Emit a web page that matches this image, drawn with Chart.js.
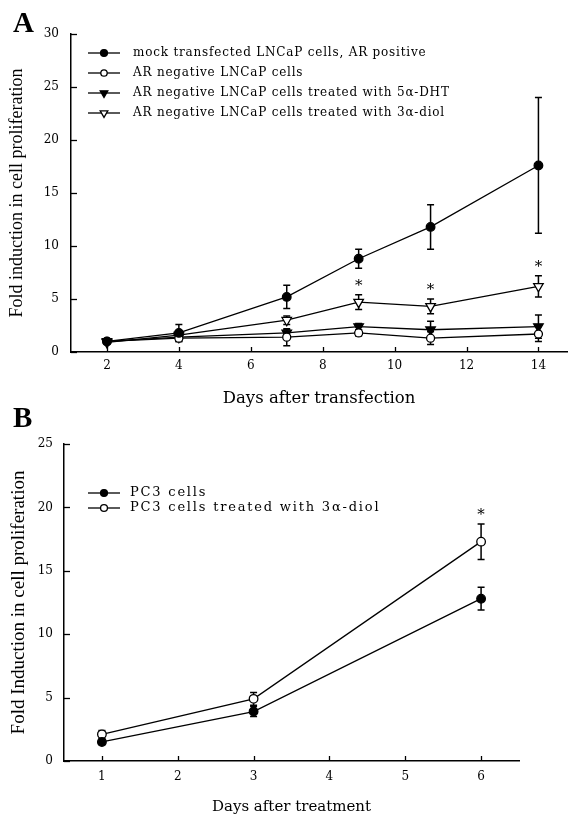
<!DOCTYPE html>
<html>
<head>
<meta charset="utf-8">
<script src="https://cdn.jsdelivr.net/npm/chart.js@4.4.0/dist/chart.umd.min.js"></script>
<style>
body{margin:0;background:#fff;width:574px;height:817px;position:relative;overflow:hidden;}
canvas{position:absolute;left:0;}
#chartA{top:0;}
#chartB{top:400px;}
.lbl{position:absolute;font:bold 29px "Liberation Serif";line-height:1;z-index:2;}
</style>
</head>
<body>
<div class="lbl" style="left:13px;top:8px">A</div>
<div class="lbl" style="left:13px;top:403px">B</div>
<canvas id="chartA" width="574" height="410"></canvas>
<canvas id="chartB" width="574" height="417"></canvas>
<script>
// # ===============================
// # = Data panel A
// # ===============================
var daysA = [2, 4, 7, 9, 11, 14];
var mockA = [1.0, 1.8, 5.2, 8.8, 11.8, 17.6];
var mockErrA = [0.1, 0.8, 1.1, 0.9, 2.1, 6.4];
var negA = [1.0, 1.3, 1.4, 1.8, 1.3, 1.7];
var negErrA = [0.1, 0.3, 0.8, 0.3, 0.6, 0.7];
var dhtA = [1.0, 1.4, 1.8, 2.4, 2.1, 2.4];
var dhtErrA = [0.1, 0.3, 0.3, 0.3, 0.8, 1.1];
var diolA = [0.9, 1.6, 3.0, 4.7, 4.3, 6.2];
var diolErrA = [0.1, 0.4, 0.4, 0.7, 0.7, 1.0];
var starDaysA = [9, 11, 14];
var xTicksA = [2, 4, 6, 8, 10, 12, 14];
var yTicksA = [0, 5, 10, 15, 20, 25, 30];

// # ===============================
// # = Data panel B
// # ===============================
var daysB = [1, 3, 6];
var pc3B = [1.5, 3.9, 12.8];
var pc3ErrB = [0.2, 0.4, 0.9];
var pc3DiolB = [2.1, 4.9, 17.3];
var pc3DiolErrB = [0.3, 0.5, 1.4];
var starDaysB = [6];
var xTicksB = [1, 2, 3, 4, 5, 6];
var yTicksB = [0, 5, 10, 15, 20, 25];

function serie(label, days, vals, errs, style, filled, radius, rot) {
	return {
		label: label,
		data: days.map(function(d, i){ return {x: d, y: vals[i]}; }),
		errors: errs,
		borderColor: '#000',
		borderWidth: 1.3,
		pointStyle: style,
		pointRadius: radius,
		pointRotation: rot,
		pointBackgroundColor: filled ? '#000' : '#fff',
		pointBorderColor: '#000',
		pointBorderWidth: 1.3,
		tension: 0,
		fill: false
	};
}

// error bars + asterisks
var errorBars = {
	id: 'errorBars',
	beforeDatasetsDraw: function(chart, args, opts) {
		var ctx = chart.ctx, xs = chart.scales.x, ys = chart.scales.y;
		ctx.save();
		ctx.strokeStyle = '#000';
		ctx.lineWidth = 1.5;
		chart.data.datasets.forEach(function(ds){
			ds.data.forEach(function(p, i){
				var e = ds.errors[i];
				var x = xs.getPixelForValue(p.x);
				var y1 = ys.getPixelForValue(p.y + e), y0 = ys.getPixelForValue(p.y - e);
				ctx.beginPath();
				ctx.moveTo(x, y0); ctx.lineTo(x, y1);
				ctx.moveTo(x - 3.5, y1); ctx.lineTo(x + 3.5, y1);
				ctx.moveTo(x - 3.5, y0); ctx.lineTo(x + 3.5, y0);
				ctx.stroke();
			});
		});
		var ds = chart.data.datasets[opts.dataset];
		ctx.fillStyle = '#000';
		ctx.font = '15px "DejaVu Serif"';
		ctx.textAlign = 'center';
		ctx.textBaseline = 'middle';
		opts.days.forEach(function(d){
			var i = ds.data.findIndex(function(p){ return p.x === d; });
			var top = ys.getPixelForValue(ds.data[i].y + ds.errors[i]);
			ctx.fillText('*', xs.getPixelForValue(d), top - 9);
		});
		ctx.restore();
	}
};

// tick marks pointing into the plot
var innerTicks = {
	id: 'innerTicks',
	afterDraw: function(chart) {
		var ctx = chart.ctx, a = chart.chartArea;
		ctx.save();
		ctx.strokeStyle = '#000';
		ctx.lineWidth = 1.3;
		chart.scales.x.ticks.forEach(function(t){
			var px = Math.round(chart.scales.x.getPixelForValue(t.value)) + 0.5;
			ctx.beginPath(); ctx.moveTo(px, a.bottom); ctx.lineTo(px, a.bottom - 5); ctx.stroke();
		});
		chart.scales.y.ticks.forEach(function(t){
			var py = Math.round(chart.scales.y.getPixelForValue(t.value)) + 0.5;
			ctx.beginPath(); ctx.moveTo(a.left, py); ctx.lineTo(a.left + 6, py); ctx.stroke();
		});
		ctx.restore();
	}
};

// legend: line + marker, drawn inside the plot
var lineLegend = {
	id: 'lineLegend',
	afterDraw: function(chart, args, opts) {
		var ctx = chart.ctx;
		ctx.save();
		chart.data.datasets.forEach(function(ds, i){
			var y = opts.y + i * opts.gap;
			ctx.strokeStyle = '#000';
			ctx.lineWidth = 1.3;
			ctx.beginPath(); ctx.moveTo(opts.x, y); ctx.lineTo(opts.x + 32, y); ctx.stroke();
			ctx.fillStyle = ds.pointBackgroundColor;
			ctx.strokeStyle = '#000';
			Chart.helpers.drawPoint(ctx, {pointStyle: ds.pointStyle, radius: ds.pointRadius * 0.8, rotation: ds.pointRotation, borderWidth: 1.3}, opts.x + 16, y);
			ctx.fillStyle = '#000';
			ctx.font = opts.size + 'px "DejaVu Serif"';
			ctx.letterSpacing = opts.spacing + 'px';
			ctx.textAlign = 'left';
			ctx.textBaseline = 'middle';
			ctx.fillText(ds.label, opts.textX, y);
			ctx.letterSpacing = '0px';
		});
		ctx.restore();
	}
};

function axes(xmin, xmax, ymax, xTicks, yTicks, yw, xh, xPad, yPad, xTitle, yTitle, xSize, ySize, yTitlePad, xTitlePad) {
	return {
		x: {
			type: 'linear', min: xmin, max: xmax,
			afterBuildTicks: function(s){ s.ticks = xTicks.map(function(v){ return {value: v}; }); },
			afterFit: function(s){ s.height = xh; },
			grid: {drawOnChartArea: false, drawTicks: false},
			border: {display: true, color: '#000', width: 1.5},
			ticks: {color: '#000', padding: xPad, maxRotation: 0, font: {family: 'DejaVu Serif', size: 12}},
			title: {display: true, text: xTitle, color: '#000', padding: {top: 0, bottom: xTitlePad}, font: {family: 'DejaVu Serif', size: xSize, lineHeight: 1}}
		},
		y: {
			type: 'linear', min: 0, max: ymax,
			afterBuildTicks: function(s){ s.ticks = yTicks.map(function(v){ return {value: v}; }); },
			afterFit: function(s){ s.width = yw; },
			grid: {drawOnChartArea: false, drawTicks: false},
			border: {display: true, color: '#000', width: 1.5},
			ticks: {color: '#000', padding: yPad, font: {family: 'DejaVu Serif', size: 12}},
			title: {display: true, text: yTitle, color: '#000', padding: {top: yTitlePad, bottom: 0}, font: {family: 'Liberation Serif', size: ySize, lineHeight: 1.2}}
		}
	};
}

// # ===============================
// # = Panel A
// # ===============================
new Chart(document.getElementById('chartA'), {
	type: 'line',
	data: {
		datasets: [
			serie('mock transfected LNCaP cells, AR positive', daysA, mockA, mockErrA, 'circle', true, 4.3, 0),
			serie('AR negative LNCaP cells', daysA, negA, negErrA, 'circle', false, 4, 0),
			serie('AR negative LNCaP cells treated with 5\u03b1-DHT', daysA, dhtA, dhtErrA, 'triangle', true, 5.5, 180),
			serie('AR negative LNCaP cells treated with 3\u03b1-diol', daysA, diolA, diolErrA, 'triangle', false, 5.5, 180)
		]
	},
	options: {
		responsive: false,
		animation: false,
		layout: {padding: {top: 34, right: 4, left: 0, bottom: 0}},
		scales: axes(1, 14.8, 30, xTicksA, yTicksA, 71, 58, 7, 12, 'Days after transfection', 'Fold induction in cell proliferation', 16.5, 18, 6, 3),
		plugins: {
			legend: {display: false},
			tooltip: {enabled: false},
			errorBars: {dataset: 3, days: starDaysA},
			lineLegend: {x: 88, y: 53, gap: 20, textX: 133, size: 12, spacing: 0.8}
		}
	},
	plugins: [errorBars, innerTicks, lineLegend]
});

// # ===============================
// # = Panel B
// # ===============================
new Chart(document.getElementById('chartB'), {
	type: 'line',
	data: {
		datasets: [
			serie('PC3 cells', daysB, pc3B, pc3ErrB, 'circle', true, 4.3, 0),
			serie('PC3 cells treated with 3\u03b1-diol', daysB, pc3DiolB, pc3DiolErrB, 'circle', false, 4.3, 0)
		]
	},
	options: {
		responsive: false,
		animation: false,
		layout: {padding: {top: 44, right: 55, left: 0, bottom: 0}},
		scales: axes(0.5, 6.5, 25, xTicksB, yTicksB, 64, 56, 9, 11, 'Days after treatment', 'Fold Induction in cell proliferation', 15, 19, 8, 2.5),
		plugins: {
			legend: {display: false},
			tooltip: {enabled: false},
			errorBars: {dataset: 1, days: starDaysB},
			lineLegend: {x: 88, y: 93, gap: 15, textX: 130, size: 13, spacing: 1.8}
		}
	},
	plugins: [errorBars, innerTicks, lineLegend]
});
</script>
</body>
</html>
